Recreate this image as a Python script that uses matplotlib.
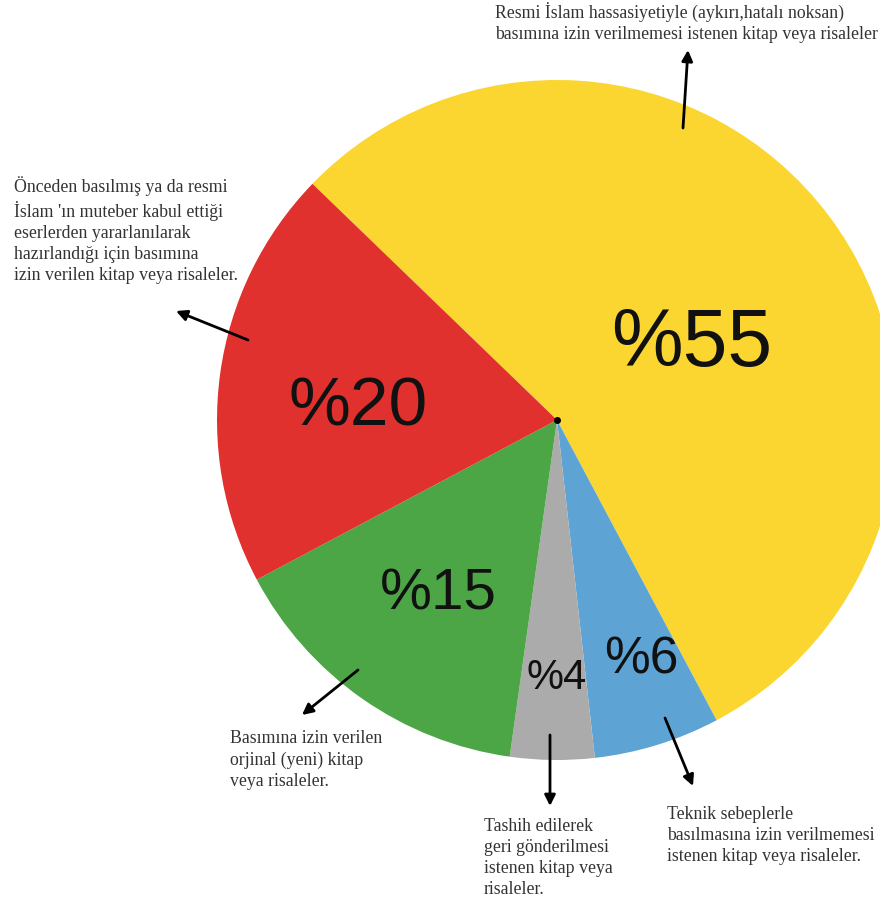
import matplotlib.pyplot as plt

# Dilimler (saat yönünde, sarıdan başlayarak)
yuzdeler = [55, 6, 4, 15, 20]
etiketler = ['%55', '%6', '%4', '%15', '%20']
renkler = ['#FBD530', '#5DA3D4', '#ABABAB', '#4CA646', '#E0312E']
aciklamalar = [
    'Resmi İslam hassasiyetiyle (aykırı,hatalı noksan)\nbasımına izin verilmemesi istenen kitap veya risaleler',
    'Teknik sebeplerle\nbasılmasına izin verilmemesi\nistenen kitap veya risaleler.',
    'Tashih edilerek\ngeri gönderilmesi\nistenen kitap veya\nrisaleler.',
    'Basımına izin verilen\norjinal (yeni) kitap\nveya risaleler.',
    'Önceden basılmış ya da resmi\nİslam \'ın muteber kabul ettiği\neserlerden yararlanılarak\nhazırlandığı için basımına\nizin verilen kitap veya risaleler.',
]

W, H = 880, 906
fig = plt.figure(figsize=(W / 100, H / 100), dpi=100)
ax = fig.add_axes([0, 0, 1, 1])

def py(y):
    # piksel y -> veri y
    return H - y

merkez = (557, py(420))
ax.pie(yuzdeler, colors=renkler, startangle=136, counterclock=False,
       radius=340, center=merkez, wedgeprops=dict(linewidth=0))
ax.plot(*merkez, 'o', color='black', markersize=4)

# yüzde yazıları
yazi_yer = [(692, 345), (641, 660), (557, 678), (438, 595), (358, 408)]
yazi_boy = [58, 37, 30, 42, 50]
for et, (x, y), s in zip(etiketler, yazi_yer, yazi_boy):
    ax.text(x, py(y), et, ha='center', va='center', fontsize=s,
            family='Liberation Sans', color='#111111')

# açıklamalar ve oklar
acik_yer = [(495, 2), (667, 806), (484, 818), (230, 730), (14, 176)]
ok_bas = [(683, 128), (665, 718), (550, 735), (358, 670), (248, 340)]
ok_uc = [(688, 50), (693, 786), (550, 806), (302, 715), (176, 311)]
for t, (x, y) in zip(aciklamalar, acik_yer):
    ax.text(x, py(y), t, ha='left', va='top', fontsize=12.8,
            family='Liberation Serif', color='#333333', linespacing=1.32)
for (x0, y0), (x1, y1) in zip(ok_bas, ok_uc):
    ax.annotate('', xy=(x1, py(y1)), xytext=(x0, py(y0)),
                arrowprops=dict(arrowstyle='-|>', color='black', lw=2,
                                mutation_scale=16, shrinkA=0, shrinkB=0))

ax.set_xlim(0, W)
ax.set_ylim(0, H)
ax.set_aspect('equal')
ax.axis('off')
fig.savefig('out.png', dpi=100)
